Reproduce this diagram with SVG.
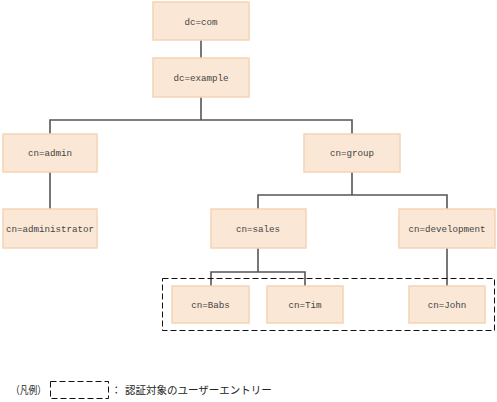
<svg xmlns="http://www.w3.org/2000/svg" width="497" height="402" viewBox="0 0 497 402">
<style>
.box{fill:#FAE7D6;stroke:#F5D5B5;stroke-width:1.5}
.lbl{font-family:"Liberation Mono","DejaVu Sans Mono",monospace;font-size:9.2px;fill:#444;text-anchor:middle}
.ln{stroke:#555;stroke-width:1.6;fill:none}
.dash{fill:none;stroke:#111;stroke-width:1;stroke-dasharray:6 3}
.jp{font-family:"Noto Sans CJK JP","Liberation Sans",sans-serif;font-size:10.5px;fill:#222}
</style>
<rect width="497" height="402" fill="#fff"/>
<g id="connectors">
<path class="ln" d="M201 40V58"/>
<path class="ln" d="M201 97V120M50 134V120H352V134"/>
<path class="ln" d="M50 172V209"/>
<path class="ln" d="M352 172V195M258 209V195H447V209"/>
<path class="ln" d="M258 248V272M211 286V272H305V286"/>
<path class="ln" d="M447 248V286"/>
</g>
<rect class="dash" x="162.5" y="278.5" width="332" height="52"/>
<g id="dc_com"><rect class="box" x="153" y="2" width="96" height="38"/><text class="lbl" x="201" y="24.5">dc=com</text></g>
<g id="dc_example"><rect class="box" x="153" y="58" width="96" height="39"/><text class="lbl" x="201" y="80.5">dc=example</text></g>
<g id="cn_admin"><rect class="box" x="3" y="134" width="94" height="38"/><text class="lbl" x="50" y="156">cn=admin</text></g>
<g id="cn_group"><rect class="box" x="304" y="134" width="96" height="38"/><text class="lbl" x="352" y="156">cn=group</text></g>
<g id="cn_administrator"><rect class="box" x="3" y="209" width="94" height="39"/><text class="lbl" x="50" y="231.5">cn=administrator</text></g>
<g id="cn_sales"><rect class="box" x="211" y="209" width="95" height="39"/><text class="lbl" x="258" y="231.5">cn=sales</text></g>
<g id="cn_development"><rect class="box" x="399" y="209" width="96" height="39"/><text class="lbl" x="447" y="231.5">cn=development</text></g>
<g id="cn_Babs"><rect class="box" x="172" y="286" width="77" height="37"/><text class="lbl" x="210.5" y="307.5">cn=Babs</text></g>
<g id="cn_Tim"><rect class="box" x="267" y="286" width="76" height="37"/><text class="lbl" x="305" y="307.5">cn=Tim</text></g>
<g id="cn_John"><rect class="box" x="409" y="286" width="76" height="37"/><text class="lbl" x="447" y="307.5">cn=John</text></g>
<g id="legend">
<text class="jp" x="11" y="394" textLength="35" lengthAdjust="spacingAndGlyphs">（凡例）</text>
<rect class="dash" x="50.5" y="381.5" width="58" height="17"/>
<text class="jp" x="111" y="394">：</text>
<text class="jp" x="125" y="394">認証対象のユーザーエントリー</text>
</g>
</svg>
